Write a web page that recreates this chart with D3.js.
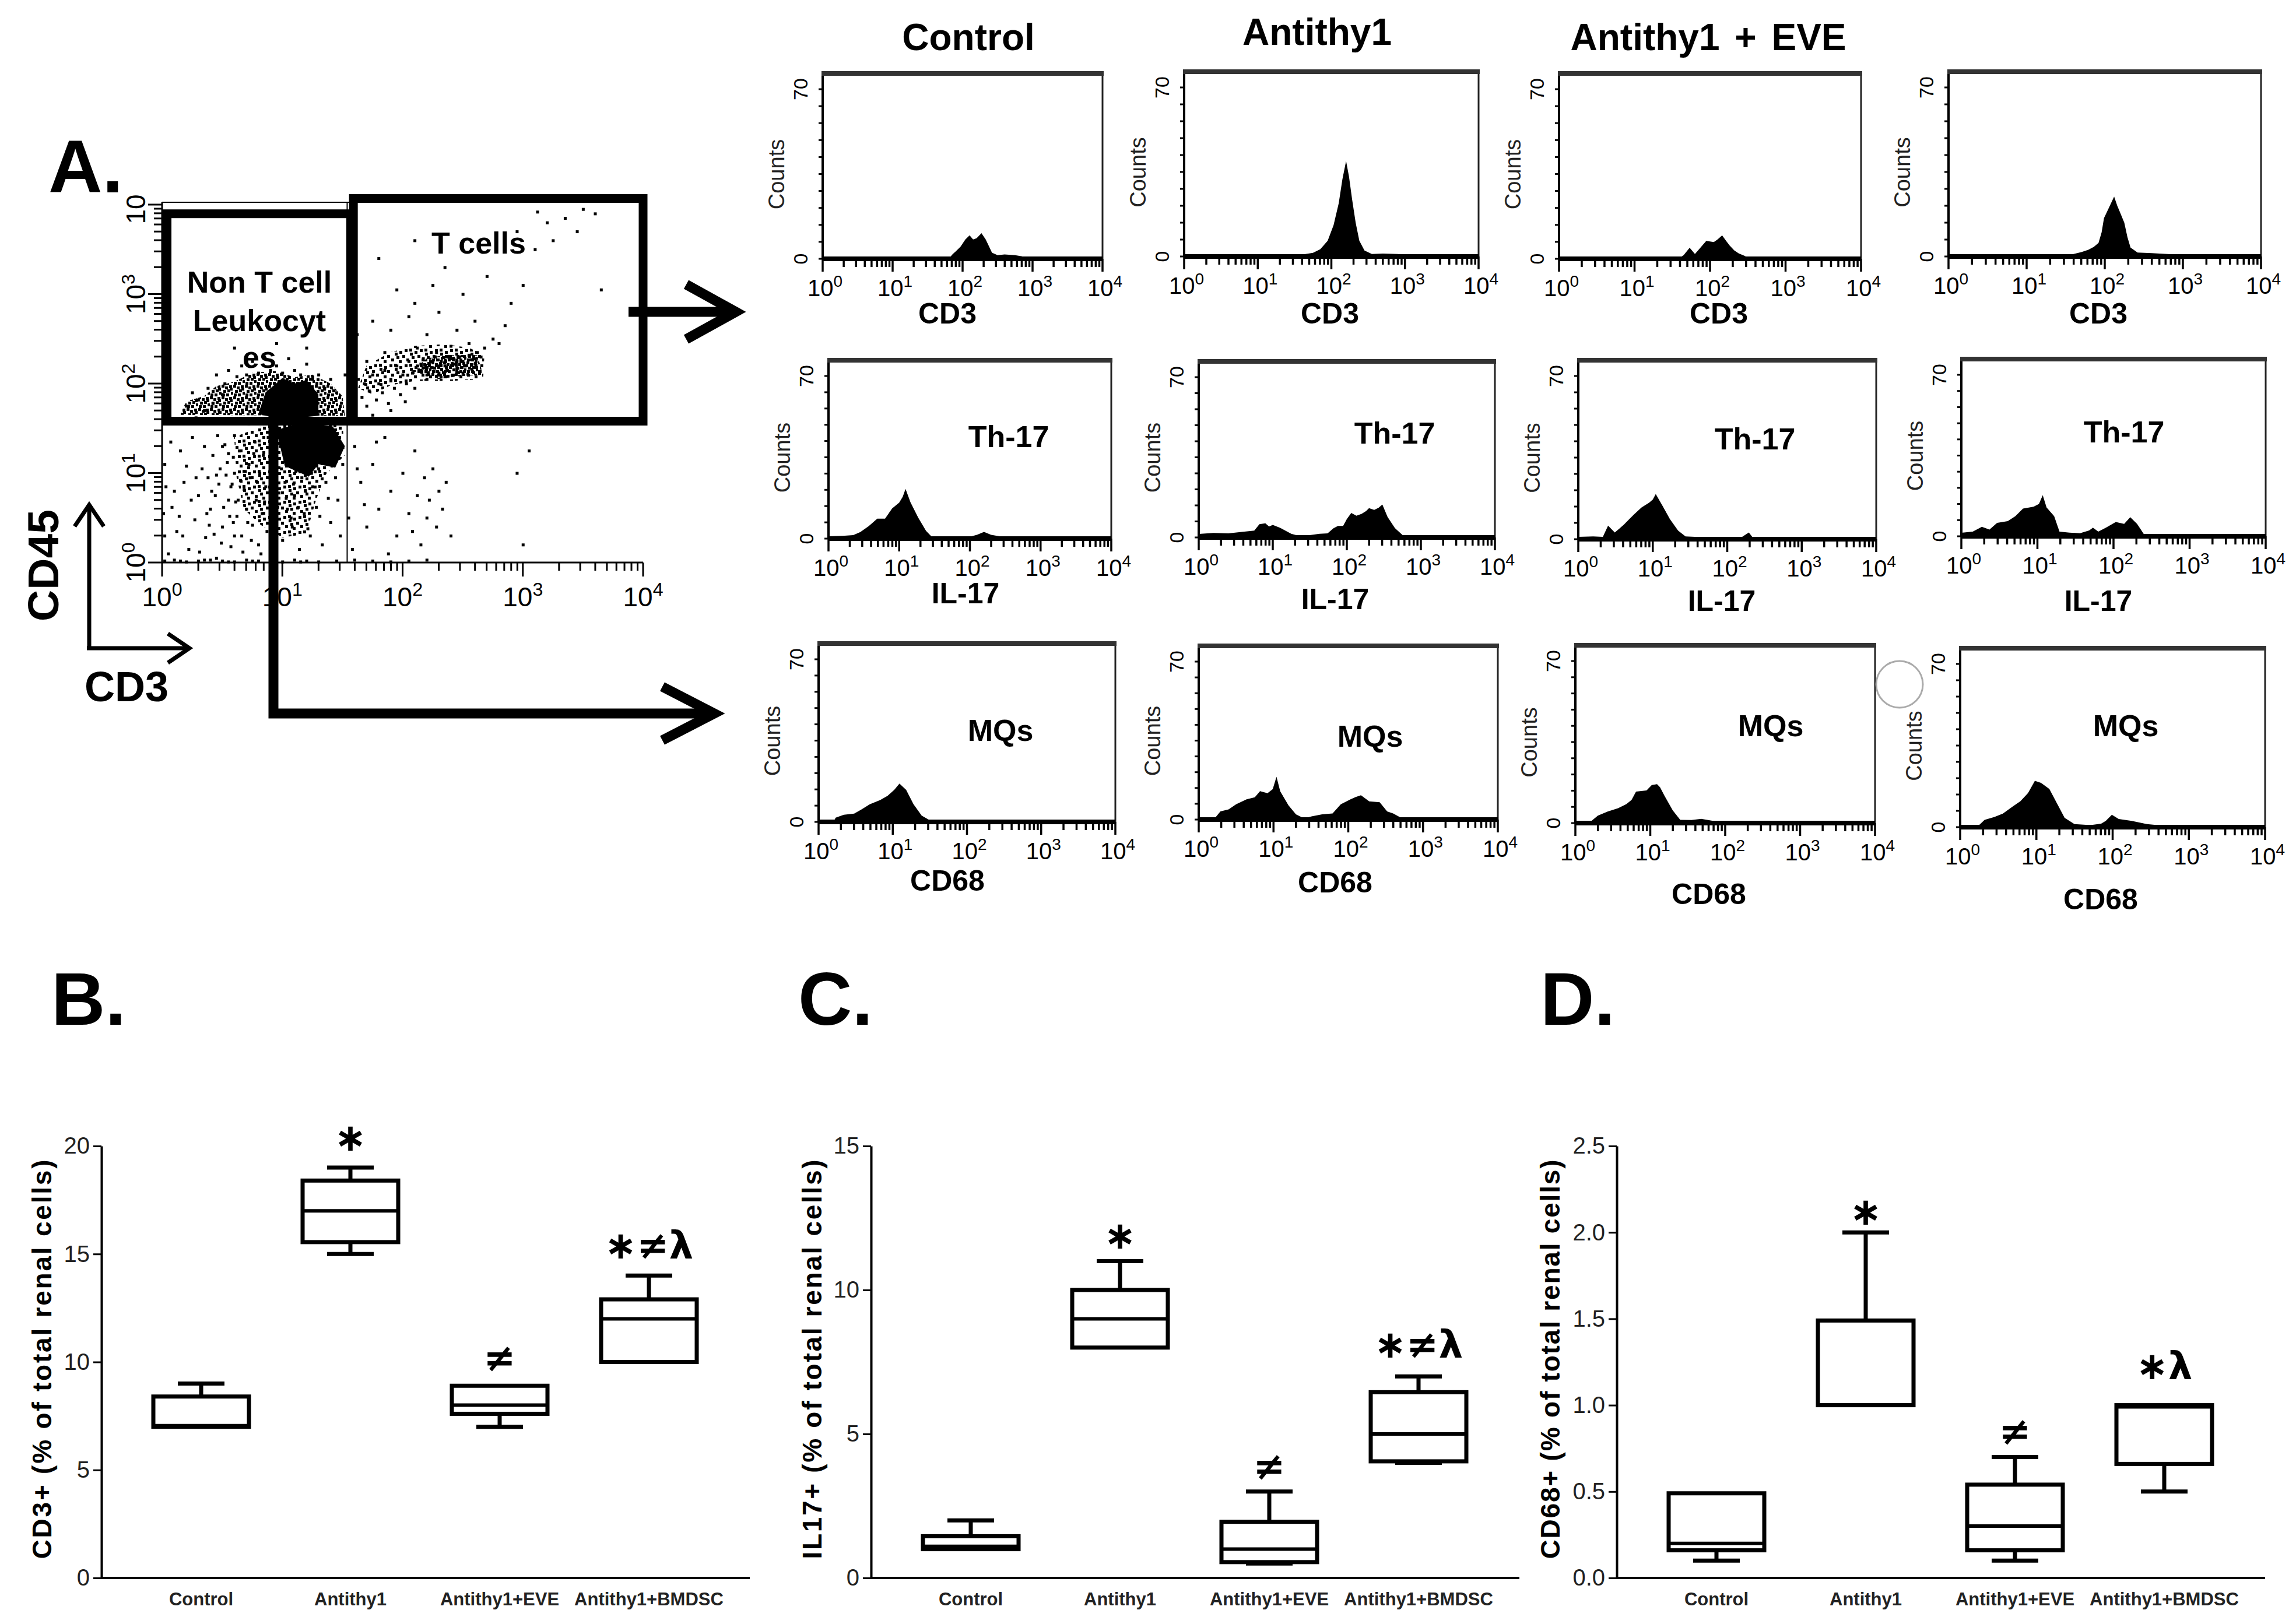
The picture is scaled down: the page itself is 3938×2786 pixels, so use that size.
<!DOCTYPE html>
<html>
<head>
<meta charset="utf-8">
<script src="https://cdn.jsdelivr.net/npm/d3@7"></script>
<style>
  html, body { margin: 0; padding: 0; background: #fff; }
  svg { display: block; }
</style>
</head>
<body>
<svg id="fig"></svg>
<script>
// ---------- data ----------
const groupTitles = ["Control", "Antithy1", "Antithy1 + EVE"];
const cats = ["Control", "Antithy1", "Antithy1+EVE", "Antithy1+BMDSC"];

// scatter (log10 CD3, log10 CD45)
const scatterPoints = [
  [0.05,0.1],[0.12,0.35],[0.08,0.62],[0.18,0.9],[0.22,0.15],[0.27,0.48],[0.3,0.75],[0.33,1.05],[0.36,0.28],[0.4,0.6],
  [0.42,1.2],[0.45,0.05],[0.47,0.88],[0.5,0.4],[0.52,1.32],[0.55,0.7],[0.57,0.18],[0.6,1.0],[0.62,0.52],[0.64,1.25],
  [0.66,0.3],[0.68,0.82],[0.7,0.6],[0.72,1.1],[0.73,0.95],[0.75,0.42],[0.77,1.35],[0.78,0.7],[0.8,0.2],[0.81,1.0],
  [0.83,0.55],[0.84,1.2],[0.86,0.85],[0.87,0.35],[0.88,1.4],[0.9,0.65],[0.92,0.1],[0.93,1.0],[0.95,0.48],[0.97,0.78],
  [0.98,1.3],[1.0,0.25],[1.02,0.9],[1.04,0.6],[1.06,1.15],[1.08,0.4],[1.1,0.75],[1.12,1.4],[1.14,0.15],[1.16,0.95],
  [1.18,0.55],[1.2,1.2],[1.23,0.3],[1.25,0.85],[1.28,0.62],[1.3,1.05],[1.33,0.2],[1.36,0.9],[1.4,0.45],[1.43,1.3],
  [1.46,0.7],[1.5,1.1],[0.15,1.25],[0.25,1.4],[0.1,0.8],[0.38,0.95],[0.58,0.88],[0.63,0.7],[0.69,1.02],[0.74,0.25],
  [0.79,0.9],[0.85,0.68],[0.89,1.12],[0.94,0.32],[0.99,1.05],[1.03,0.72],[1.07,0.5],[1.11,1.02],[1.19,0.8],[1.27,1.25],
  [0.6,0.3],[0.71,0.45],[0.82,0.1],[0.96,0.62],[1.09,0.88],[1.21,0.38],
  [0.14,0.52],[0.2,1.08],[0.24,0.7],[0.31,0.12],[0.35,1.3],[0.39,0.42],[0.44,0.75],[0.46,1.42],[0.49,0.22],[0.53,0.98],
  [0.56,0.52],[0.59,1.18],[0.65,0.92],[0.67,0.12],[0.76,1.22],[0.91,0.88],[1.13,0.62],[1.17,1.28],[1.24,1.0],[1.31,0.52],
  [1.35,1.2],[1.38,0.72],[1.44,0.95],[1.48,0.3],[0.07,1.35],[0.17,0.3],[0.28,0.95],[0.43,0.32],[0.54,1.12],[0.61,0.68],
  [0.48,1.05],[0.51,0.62],[0.57,0.85],[0.59,0.45],[0.45,0.98],[0.41,0.8],[0.37,0.55],[0.55,1.22],[0.6,1.42],[0.5,1.3],
  [0.02,0.02],[0.1,0.03],[0.2,0.01],[0.3,0.02],[0.4,0.03],[0.5,0.02],[0.6,0.01],[0.7,0.03],[0.8,0.02],[0.9,0.02],
  [1.0,0.01],[1.1,0.03],[1.2,0.02],[1.3,0.01],[1.45,0.02],[1.6,0.03],[1.75,0.02],[1.9,0.01],[2.05,0.02],[2.2,0.03],
  [0.02,0.3],[0.01,0.55],[0.03,0.85],[0.02,1.1],[0.15,0.02],[0.35,0.03],[0.55,0.01],[0.75,0.02],[0.95,0.03],[1.15,0.01],
  [0.2,1.75],[0.25,1.9],[0.3,1.82],[0.35,1.7],[0.38,1.95],[0.42,1.78],[0.45,2.1],[0.48,1.68],[0.5,1.88],[0.52,2.0],
  [0.55,2.15],[0.58,1.6],[0.62,2.08],[0.66,2.2],[0.7,2.1],[0.75,2.25],[0.8,2.12],[0.85,2.3],[0.9,2.15],[0.95,2.2],
  [1.0,2.12],[1.05,2.28],[1.1,2.15],[1.15,2.1],[1.2,2.22],[1.25,2.05],[1.3,2.1],[1.35,1.95],[1.4,2.05],[1.45,1.9],
  [1.48,1.75],[1.5,1.6],[1.42,1.55],[0.4,1.58],[0.28,1.62],[0.6,2.4],[0.95,2.45],[1.2,2.4],[0.72,1.55],[1.15,1.52],
  [1.55,1.8],[1.58,1.95],[1.6,1.7],[1.63,2.05],[1.66,1.85],[1.68,2.0],[1.7,1.75],[1.72,1.92],[1.75,2.1],[1.78,1.82],
  [1.8,2.0],[1.83,1.9],[1.85,2.15],[1.88,1.78],[1.9,2.05],[1.93,1.95],[1.95,2.2],[1.98,1.88],[2.0,2.1],[2.03,2.0],
  [2.05,2.25],[2.08,2.12],[2.1,1.95],[2.12,2.2],[2.15,2.15],[2.17,2.28],[2.2,2.1],[2.22,2.22],[2.25,2.18],[2.27,2.3],
  [2.3,2.12],[2.32,2.25],[2.35,2.2],[2.37,2.15],[2.4,2.28],[2.42,2.22],[2.45,2.17],[2.47,2.3],[2.5,2.25],[2.52,2.2],
  [2.55,2.32],[2.57,2.27],[2.6,2.22],[2.62,2.35],[2.65,2.3],[2.68,2.4],[2.2,2.05],[2.35,2.08],[2.5,2.12],[2.28,2.35],
  [1.62,1.6],[1.75,1.65],[1.9,1.7],[2.02,1.8],[1.52,2.1],[1.7,2.25],[1.85,2.35],[2.12,2.4],[2.4,2.42],[2.15,2.22],
  [2.3,2.2],[2.45,2.25],[2.6,2.28],[2.18,2.18],[2.38,2.3],
  [1.62,2.55],[1.75,2.7],[1.9,2.6],[2.05,2.75],[2.1,2.9],[1.95,3.05],[2.2,2.55],[2.3,2.8],[2.45,2.6],[2.6,2.7],
  [2.75,2.5],[2.85,2.65],[2.5,3.0],[2.35,3.3],[1.8,3.4],[2.1,3.6],[2.7,3.2],[2.9,2.9],[3.0,3.1],[3.1,3.5],
  [3.2,3.8],[3.35,3.85],[3.5,3.95],[3.6,3.9],[3.12,3.92],[3.65,3.05],[2.55,2.45],[2.8,2.45],[2.25,3.1],[2.95,3.7],
  [3.25,3.6],[3.45,3.7],
  [1.6,1.3],[1.65,0.9],[1.7,0.4],[1.75,1.1],[1.8,0.6],[1.85,1.4],[1.9,0.8],[1.95,0.3],[2.0,1.0],[2.05,0.55],
  [2.1,1.25],[2.12,0.75],[2.15,0.2],[2.18,0.95],[2.2,0.5],[2.22,0.7],[2.25,1.05],[2.28,0.4],[2.3,0.8],[2.33,0.6],
  [2.36,0.9],[1.58,0.15],[1.68,0.65],[1.78,1.35],[1.88,0.1],[2.08,0.35],[2.4,0.3],[2.95,1.0],[3.05,1.25],[3.0,0.2],
  [1.55,0.5],[1.62,1.05]
];
// dense cores (solid) and speckled clouds of the dot plot (log10 CD3, log10 CD45)
const coreUpper = [[0.8,1.66],[0.86,1.9],[1.0,2.06],[1.1,2.0],[1.2,2.04],[1.3,1.88],[1.3,1.64],[1.0,1.6]];
const coreLower = [[0.95,1.48],[1.15,1.56],[1.42,1.52],[1.52,1.3],[1.44,1.06],[1.3,1.1],[1.22,0.96],[1.02,1.08]];
const cloudUpper = [[0.15,1.65],[0.2,1.8],[0.35,1.86],[0.45,1.97],[0.6,2.02],[0.75,2.12],[0.95,2.14],[1.1,2.07],[1.25,2.1],[1.4,2.0],[1.5,1.86],[1.52,1.64]];
const cloudLower = [[0.6,1.4],[0.9,1.56],[1.5,1.56],[1.52,1.2],[1.36,0.98],[1.28,0.7],[1.2,0.32],[1.0,0.28],[0.82,0.42],[0.68,0.6],[0.62,0.95]];
const cloudTcell = [[1.63,1.95],[1.7,2.2],[1.9,2.35],[2.1,2.42],[2.35,2.44],[2.55,2.4],[2.68,2.32],[2.67,2.05],[2.4,2.03],[2.1,2.03],[1.9,1.98],[1.75,1.88]];
const coreTcell = [[2.08,2.14],[2.2,2.28],[2.35,2.32],[2.62,2.32],[2.67,2.1],[2.45,2.08],[2.3,2.05]];
// gates (CD3, CD45)
const nonTGate = [[1.1, 38], [37, 7900]];
const tGate = [[39, 38], [10000, 11700]];
const quadrant = [34.6, 37.7];

// histograms: [log10 intensity, counts]
const cd3Control = [[1.8,0],[1.86,2],[1.9,3],[1.97,5],[2.04,8],[2.1,9.7],[2.15,8],[2.2,8.5],[2.27,10.6],[2.33,8],[2.38,5],[2.42,2.5],[2.5,1.5],[2.6,1.8],[2.75,1.5],[2.85,1],[2.9,0]];
const cd3Antithy1 = [[1.6,0],[1.65,1],[1.75,1.5],[1.85,3],[1.95,6.5],[2.03,13],[2.1,22],[2.15,32],[2.2,39.5],[2.24,33],[2.28,24],[2.33,14],[2.38,6.5],[2.45,2.5],[2.55,1],[2.7,1.2],[2.9,1],[3.05,0.5],[3.1,0]];
const cd3Eve = [[1.58,0],[1.65,1.5],[1.73,4.6],[1.8,2],[1.87,4.5],[1.95,7.4],[2.05,6.9],[2.1,8],[2.16,9.7],[2.21,7.5],[2.26,5.5],[2.32,3.5],[2.38,2.2],[2.46,1.2],[2.52,0]];
const cd3Bmdsc = [[1.55,0],[1.6,1],[1.7,1.8],[1.79,2.8],[1.86,4],[1.92,5.6],[1.96,10],[1.99,15.9],[2.05,20],[2.12,24.8],[2.16,21],[2.19,18.7],[2.25,14],[2.29,8],[2.33,3.7],[2.42,1.6],[2.6,1.4],[2.8,1],[2.95,0.8],[2.98,0]];
const il17Control = [[0,1],[0.2,1.2],[0.35,1.5],[0.45,2.8],[0.57,5.4],[0.69,8.6],[0.8,8.6],[0.9,13],[1.0,15.5],[1.05,18],[1.09,21.4],[1.16,15.6],[1.27,9],[1.38,3.3],[1.46,0.8],[1.7,0.8],[2.0,0.8],[2.1,1.6],[2.2,2.9],[2.3,1.6],[2.42,1],[2.45,0]];
const il17Antithy1 = [[0,1.5],[0.2,2],[0.4,1.8],[0.6,2.5],[0.75,3],[0.82,5.8],[0.9,6.2],[0.95,4.8],[1.0,5.5],[1.1,4.2],[1.25,1.6],[1.39,0.4],[1.5,1],[1.63,1.6],[1.74,1.8],[1.82,4],[1.88,5],[1.95,5],[2.0,8],[2.06,10.7],[2.13,9.5],[2.2,10.3],[2.26,11.5],[2.3,12.8],[2.37,12],[2.43,13],[2.48,14.4],[2.55,9],[2.65,4.1],[2.76,0.8],[2.8,0]];
const il17Eve = [[0,1],[0.2,1.2],[0.33,1],[0.4,5.8],[0.49,2.9],[0.55,4.5],[0.61,6.2],[0.75,10.7],[0.85,13.6],[0.95,15.6],[1.0,17],[1.04,19.4],[1.13,14.4],[1.23,8.6],[1.34,3.7],[1.44,1.2],[1.7,0.8],[2.0,0.8],[2.2,1],[2.29,2.9],[2.34,0.8],[2.36,0]];
const il17Bmdsc = [[0,1.5],[0.15,2],[0.27,4.1],[0.37,2.9],[0.47,5.8],[0.61,6.6],[0.71,8.7],[0.81,12],[0.95,12.8],[1.02,14],[1.07,17.8],[1.12,12.5],[1.22,8.7],[1.29,2],[1.42,1.6],[1.56,1.3],[1.68,2.5],[1.73,3.7],[1.8,2],[1.9,3.7],[2.03,6.2],[2.14,5.4],[2.22,8.3],[2.31,5.4],[2.41,0.4],[2.42,0]];
const cd68Control = [[0.2,0],[0.23,1.8],[0.34,3.1],[0.48,3.6],[0.58,5.4],[0.69,7.6],[0.83,9.4],[0.93,11.2],[1.02,13.8],[1.09,16.5],[1.18,13.8],[1.28,7.6],[1.39,2.7],[1.49,0.9],[1.6,0.8],[1.81,1],[1.9,0.5],[1.95,0]];
const cd68Antithy1 = [[0.2,0],[0.29,3.6],[0.4,4.5],[0.5,6.8],[0.64,9],[0.75,9.9],[0.82,12.6],[0.92,11.7],[0.99,13.5],[1.04,19],[1.09,12.5],[1.2,6.3],[1.3,2.3],[1.41,0.5],[1.51,1.4],[1.65,2.3],[1.79,2.7],[1.9,6.8],[2.03,9],[2.1,10],[2.17,10.8],[2.28,8.1],[2.42,7.7],[2.52,3.6],[2.6,2.7],[2.7,0.9],[2.75,0]];
const cd68Eve = [[0.18,0],[0.3,3.2],[0.43,5],[0.57,6.4],[0.68,8.2],[0.75,10],[0.81,13.6],[0.95,14.1],[1.02,16.4],[1.09,16.8],[1.13,15.5],[1.19,11.8],[1.3,5.5],[1.4,1.4],[1.55,1.3],[1.68,1.8],[1.85,0.9],[1.95,0]];
const cd68Bmdsc = [[0.22,0],[0.32,3.1],[0.45,4.4],[0.56,5.8],[0.69,8.9],[0.79,11.1],[0.89,14.6],[0.98,19.9],[1.06,19],[1.17,16.4],[1.27,10.2],[1.37,4],[1.5,1.3],[1.71,0.9],[1.85,1.5],[1.91,2.7],[1.99,5.3],[2.08,3.5],[2.25,2.7],[2.45,1.3],[2.59,0.9],[2.6,0]];

// box plots: [min, q1, median, q3, max]
const cd3Stats = [[7,7,7.05,8.4,9],[15,15.55,17,18.4,19],[7,7.6,8,8.9,8.9],[10,10,12,12.9,14]];
const il17Stats = [[1,1,1.1,1.45,2],[8,8,9,10,11],[0.5,0.55,1,1.95,3],[4,4.05,5,6.45,7]];
const cd68Stats = [[0.1,0.16,0.2,0.49,0.49],[1,1,1,1.49,2],[0.1,0.16,0.3,0.54,0.7],[0.5,0.66,0.99,1,1]];
const cd3Marks = ["", "\u2217", "\u2260", "\u2217\u2260\u03bb"];
const cd3MarkAt = [0, 20.4, 10.2, 15.4];
const il17Marks = ["", "\u2217", "\u2260", "\u2217\u2260\u03bb"];
const il17MarkAt = [0, 11.9, 3.87, 8.1];
const cd68Marks = ["", "\u2217", "\u2260", "\u2217\u03bb"];
const cd68MarkAt = [0, 2.12, 0.847, 1.228];
const cd3Ticks = [0, 5, 10, 15, 20];
const il17Ticks = [0, 5, 10, 15];
const cd68Ticks = [0, 0.5, 1.0, 1.5, 2.0, 2.5];

// ---------- layout ----------
const W = 3938, H = 2786;
const SANS = "'Liberation Sans', Arial, Helvetica, sans-serif";
const NARROW = "'Liberation Sans Narrow', 'Arial Narrow', 'Liberation Sans', Arial, sans-serif";
const MATH = "'DejaVu Sans', 'Liberation Sans', sans-serif";

const svg = d3.select("#fig")
  .attr("width", W).attr("height", H)
  .attr("viewBox", `0 0 ${W} ${H}`);
svg.append("rect").attr("width", W).attr("height", H).attr("fill", "#fff");

// speckle fills for the crowded parts of the dot plot
const defs = svg.append("defs");
function speckle(id, size, dot, dots) {
  const p = defs.append("pattern").attr("id", id).attr("patternUnits", "userSpaceOnUse")
    .attr("width", size).attr("height", size);
  dots.forEach(([x, y]) => p.append("rect").attr("x", x).attr("y", y).attr("width", dot).attr("height", dot).attr("fill", "#000"));
}
speckle("speckDense", 20, 5, [[0, 0], [6, 3], [13, 1], [3, 9], [10, 8], [16, 12], [1, 15], [8, 15], [14, 5]]);
speckle("speckMid", 26, 5, [[0, 0], [9, 4], [18, 1], [4, 13], [14, 11], [21, 17], [8, 20], [1, 7]]);

function isMajor(t) { return Math.abs(Math.log10(t) - Math.round(Math.log10(t))) < 1e-9; }

function powerLabel(sel, exp, size) {
  sel.append("tspan").text("10");
  if (exp !== "") {
    sel.append("tspan").attr("font-size", size * 0.7).attr("dy", -size * 0.4).text(exp);
  }
}

// ---------- panel letters ----------
[["A.", 83, 330], ["B.", 88, 1758], ["C.", 1369, 1758], ["D.", 2642, 1758]].forEach(([t, x, y]) => {
  svg.append("text").attr("x", x).attr("y", y)
    .attr("font-family", SANS).attr("font-weight", "bold").attr("font-size", 128)
    .text(t);
});

// ---------- panel A: dot plot ----------
const sx = d3.scaleLog().domain([1, 1e4]).range([278, 1103]);
const sy = d3.scaleLog().domain([1, 1e4]).range([965, 351]);
const gA = svg.append("g");

gA.append("line").attr("x1", sx(1)).attr("x2", sx(1e4)).attr("y1", sy(1)).attr("y2", sy(1))
  .attr("stroke", "#000").attr("stroke-width", 3);
gA.append("line").attr("x1", sx(1)).attr("x2", sx(1)).attr("y1", sy(1)).attr("y2", sy(1e4) - 4)
  .attr("stroke", "#000").attr("stroke-width", 3);
gA.append("line").attr("x1", sx(1)).attr("x2", sx(1e4)).attr("y1", sy(1e4) - 4).attr("y2", sy(1e4) - 4)
  .attr("stroke", "#000").attr("stroke-width", 2);
gA.append("line").attr("x1", sx(quadrant[0])).attr("x2", sx(quadrant[0]))
  .attr("y1", sy(1)).attr("y2", sy(1e4) - 4).attr("stroke", "#000").attr("stroke-width", 2);
gA.append("line").attr("x1", sx(1)).attr("x2", sx(1e4))
  .attr("y1", sy(quadrant[1])).attr("y2", sy(quadrant[1])).attr("stroke", "#000").attr("stroke-width", 2);

sx.ticks().forEach(t => {
  gA.append("line").attr("x1", sx(t)).attr("x2", sx(t)).attr("y1", sy(1)).attr("y2", sy(1) + (isMajor(t) ? 24 : 14))
    .attr("stroke", "#000").attr("stroke-width", 3);
});
sy.ticks().forEach(t => {
  gA.append("line").attr("y1", sy(t)).attr("y2", sy(t)).attr("x1", sx(1)).attr("x2", sx(1) - (isMajor(t) ? 24 : 14))
    .attr("stroke", "#000").attr("stroke-width", 3);
});
["0", "1", "2", "3", "4"].forEach((e, i) => {
  const t = gA.append("text").attr("x", sx(Math.pow(10, i))).attr("y", 1040)
    .attr("text-anchor", "middle").attr("font-family", NARROW).attr("font-size", 46);
  powerLabel(t, e, 46);
});
["0", "1", "2", "3", ""].forEach((e, i) => {
  const t = gA.append("text").attr("transform", `translate(249,${sy(Math.pow(10, i)) + (i === 4 ? 8 : 0)}) rotate(-90)`)
    .attr("text-anchor", "middle").attr("font-family", NARROW).attr("font-size", 46);
  powerLabel(t, e, 46);
});

const blob = d3.line().x(d => sx(Math.pow(10, d[0]))).y(d => sy(Math.pow(10, d[1]))).curve(d3.curveLinearClosed);
[[cloudUpper, "url(#speckDense)"], [cloudLower, "url(#speckMid)"], [cloudTcell, "url(#speckMid)"],
 [coreTcell, "url(#speckDense)"], [coreUpper, "#000"], [coreLower, "#000"]].forEach(([b, f]) => {
  gA.append("path").attr("d", blob(b)).attr("fill", f);
});
gA.selectAll("rect.dot").data(scatterPoints).enter().append("rect")
  .attr("class", "dot")
  .attr("x", d => sx(Math.pow(10, d[0])) - 2)
  .attr("y", d => sy(Math.pow(10, d[1])) - 2)
  .attr("width", 5).attr("height", 5).attr("fill", "#000");

[nonTGate, tGate].forEach(gt => {
  gA.append("rect")
    .attr("x", sx(gt[0][0])).attr("y", sy(gt[1][1]))
    .attr("width", sx(gt[1][0]) - sx(gt[0][0]))
    .attr("height", sy(gt[0][1]) - sy(gt[1][1]))
    .attr("fill", "none").attr("stroke", "#000").attr("stroke-width", 15);
});
[["Non T cell", 445, 502], ["Leukocyt", 445, 568], ["es", 445, 631], ["T cells", 821, 435]].forEach(([t, x, y]) => {
  gA.append("text").attr("x", x).attr("y", y).attr("text-anchor", "middle")
    .attr("font-family", SANS).attr("font-weight", "bold").attr("font-size", 52).text(t);
});

const arrowPaths = [
  "M1078,535 L1262,535", "M1177,488 L1262,535 L1177,582",
  "M469,700 L469,1224 L1225,1224", "M1136,1178 L1225,1224 L1136,1270"
];
arrowPaths.forEach(p => {
  gA.append("path").attr("d", p).attr("fill", "none").attr("stroke", "#000")
    .attr("stroke-width", 17).attr("stroke-linejoin", "miter").attr("stroke-linecap", "butt");
});
["M153,1112 L153,866", "M128,903 L153,866 L178,903", "M149,1112 L325,1112", "M288,1087 L325,1112 L288,1137"].forEach(p => {
  gA.append("path").attr("d", p).attr("fill", "none").attr("stroke", "#000").attr("stroke-width", 7);
});
gA.append("text").attr("transform", "translate(100,970) rotate(-90)").attr("text-anchor", "middle")
  .attr("font-family", SANS).attr("font-weight", "bold").attr("font-size", 75).text("CD45");
gA.append("text").attr("x", 145).attr("y", 1203)
  .attr("font-family", SANS).attr("font-weight", "bold").attr("font-size", 72).text("CD3");

// ---------- histograms ----------
const titleX = [1661, 2259, 2930], titleY = [86, 77, 86];
groupTitles.forEach((t, i) => {
  svg.append("text").attr("x", titleX[i]).attr("y", titleY[i]).attr("text-anchor", "middle")
    .attr("font-family", SANS).attr("font-weight", "bold").attr("font-size", 64)
    .attr("word-spacing", i === 2 ? 8 : 0).text(t);
});

const histRows = [
  { data: [cd3Control, cd3Antithy1, cd3Eve, cd3Bmdsc], axis: "CD3", gate: null,
    lefts: [1411, 2031, 2674, 3342], rights: [1891, 2536, 3192, 3878], tops: [126, 123, 126, 123], bases: [444, 440, 444, 440],
    labelX: [1625, 2281, 2948, 3599], labelY: [555, 555, 555, 555] },
  { data: [il17Control, il17Antithy1, il17Eve, il17Bmdsc], axis: "IL-17", gate: "Th-17",
    lefts: [1421, 2056, 2707, 3364], rights: [1906, 2564, 3218, 3886], tops: [618, 620, 618, 616], bases: [924, 922, 925, 920],
    labelX: [1656, 2290, 2953, 3599], labelY: [1035, 1045, 1048, 1048],
    gateX: [1730, 2392, 3010, 3643], gateY: [767, 761, 771, 759] },
  { data: [cd68Control, cd68Antithy1, cd68Eve, cd68Bmdsc], axis: "CD68", gate: "MQs",
    lefts: [1404, 2056, 2702, 3362], rights: [1913, 2569, 3216, 3885], tops: [1104, 1108, 1107, 1112], bases: [1410, 1406, 1412, 1419],
    labelX: [1625, 2290, 2931, 3603], labelY: [1528, 1531, 1551, 1560],
    gateX: [1716, 2350, 3037, 3646], gateY: [1271, 1281, 1263, 1263] }
];

histRows.forEach(row => {
  row.data.forEach((pts, c) => {
    const L = row.lefts[c], R = row.rights[c], T = row.tops[c], B = row.bases[c];
    const x = d3.scaleLog().domain([1, 1e4]).range([L, R]);
    const y = d3.scaleLinear().domain([0, 70]).range([B, T + 27]);
    const g = svg.append("g");

    g.append("path")
      .attr("d", d3.area().x(d => x(Math.pow(10, d[0]))).y0(y(0)).y1(d => y(d[1]))(pts))
      .attr("fill", "#000");

    g.append("line").attr("x1", R).attr("x2", R).attr("y1", T).attr("y2", B).attr("stroke", "#222").attr("stroke-width", 3);
    g.append("line").attr("x1", L).attr("x2", L).attr("y1", T).attr("y2", B).attr("stroke", "#000").attr("stroke-width", 4);
    g.append("line").attr("x1", L - 2).attr("x2", R + 2).attr("y1", T).attr("y2", T).attr("stroke", "#333").attr("stroke-width", 8);
    g.append("line").attr("x1", L).attr("x2", R).attr("y1", B).attr("y2", B).attr("stroke", "#000").attr("stroke-width", 8);

    x.ticks().forEach(t => {
      g.append("line").attr("x1", x(t)).attr("x2", x(t)).attr("y1", B).attr("y2", B + (isMajor(t) ? 22 : 14))
        .attr("stroke", "#000").attr("stroke-width", 3.5);
    });
    ["0", "1", "2", "3", "4"].forEach((e, i) => {
      const tx = g.append("text").attr("x", x(Math.pow(10, i)) + 4).attr("y", B + 64)
        .attr("text-anchor", "middle").attr("font-family", NARROW).attr("font-size", 40);
      powerLabel(tx, e, 40);
    });
    d3.range(0, 71, 7).forEach(v => {
      g.append("line").attr("x1", L).attr("x2", L - 7).attr("y1", y(v)).attr("y2", y(v))
        .attr("stroke", "#000").attr("stroke-width", 3);
    });
    [0, 70].forEach(v => {
      g.append("text").attr("transform", `translate(${L - 26},${y(v)}) rotate(-90)`).attr("text-anchor", "middle")
        .attr("font-family", SANS).attr("font-size", 34).text(v);
    });
    g.append("text").attr("transform", `translate(${L - 66},${(T + B) / 2 + 14}) rotate(-90)`).attr("text-anchor", "middle")
      .attr("font-family", SANS).attr("font-size", 38).attr("fill", "#222").text("Counts");

    g.append("text").attr("x", row.labelX[c]).attr("y", row.labelY[c]).attr("text-anchor", "middle")
      .attr("font-family", SANS).attr("font-weight", "bold").attr("font-size", 50).text(row.axis);
    if (row.gate) {
      g.append("text").attr("x", row.gateX[c]).attr("y", row.gateY[c]).attr("text-anchor", "middle")
        .attr("font-family", SANS).attr("font-weight", "bold").attr("font-size", 52).text(row.gate);
    }
  });
});

svg.append("circle").attr("cx", 3258).attr("cy", 1174).attr("r", 40)
  .attr("fill", "none").attr("stroke", "#aaa").attr("stroke-width", 3);

// ---------- box plots ----------
function drawBox(x0, yLabel, yLabelX, stats, yMax, ticks, fmt, marks, markAt) {
  const g = svg.append("g");
  const x = d3.scalePoint().domain(cats).range([x0 + 171, x0 + 939]);
  const y = d3.scaleLinear().domain([0, yMax]).range([2707, 1966]);
  const bw = 164, cap = 80;

  const ax = g.append("g").attr("transform", `translate(${x0},0)`)
    .call(d3.axisLeft(y).tickValues(ticks).tickFormat(fmt).tickSize(14).tickSizeOuter(0).tickPadding(6));
  ax.select(".domain").attr("stroke-width", 4);
  ax.selectAll(".tick line").attr("stroke-width", 3);
  ax.selectAll(".tick text").attr("font-family", NARROW).attr("font-size", 40).attr("fill", "#222");

  g.append("line").attr("x1", x0).attr("x2", x0 + 1112).attr("y1", y(0)).attr("y2", y(0))
    .attr("stroke", "#000").attr("stroke-width", 4);

  cats.forEach(c => {
    g.append("text").attr("x", x(c)).attr("y", 2754).attr("text-anchor", "middle")
      .attr("font-family", SANS).attr("font-weight", "bold").attr("font-size", 31).attr("fill", "#222").text(c);
  });

  stats.forEach((s, i) => {
    const cx = x(cats[i]);
    const [mn, q1, md, q3, mx] = s;
    const gg = g.append("g").attr("stroke", "#000").attr("fill", "none");
    if (mx > q3) {
      gg.append("line").attr("x1", cx).attr("x2", cx).attr("y1", y(q3)).attr("y2", y(mx)).attr("stroke-width", 7);
      gg.append("line").attr("x1", cx - cap / 2).attr("x2", cx + cap / 2).attr("y1", y(mx)).attr("y2", y(mx)).attr("stroke-width", 7);
    }
    if (mn < q1) {
      gg.append("line").attr("x1", cx).attr("x2", cx).attr("y1", y(q1)).attr("y2", y(mn)).attr("stroke-width", 7);
      gg.append("line").attr("x1", cx - cap / 2).attr("x2", cx + cap / 2).attr("y1", y(mn)).attr("y2", y(mn)).attr("stroke-width", 7);
    }
    gg.append("rect").attr("x", cx - bw / 2).attr("y", y(q3)).attr("width", bw).attr("height", y(q1) - y(q3))
      .attr("fill", "#fff").attr("stroke-width", 7);
    gg.append("line").attr("x1", cx - bw / 2).attr("x2", cx + bw / 2).attr("y1", y(md)).attr("y2", y(md)).attr("stroke-width", 6);

    if (marks[i]) {
      g.append("text").attr("x", cx).attr("y", y(markAt[i])).attr("text-anchor", "middle")
        .attr("dominant-baseline", "central")
        .attr("font-family", MATH).attr("font-weight", "bold").attr("font-size", 66).text(marks[i]);
    }
  });

  g.append("text").attr("transform", `translate(${yLabelX},2332) rotate(-90)`).attr("text-anchor", "middle")
    .attr("font-family", SANS).attr("font-weight", "bold").attr("font-size", 46)
    .attr("textLength", 685).attr("lengthAdjust", "spacing").text(yLabel);
}

drawBox(174, "CD3+ (% of total renal cells)", 88, cd3Stats, 20, cd3Ticks, d3.format("d"), cd3Marks, cd3MarkAt);
drawBox(1494, "IL17+ (% of total renal cells)", 1409, il17Stats, 15, il17Ticks, d3.format("d"), il17Marks, il17MarkAt);
drawBox(2773, "CD68+ (% of total renal cells)", 2675, cd68Stats, 2.5, cd68Ticks, d3.format(".1f"), cd68Marks, cd68MarkAt);
</script>
</body>
</html>
